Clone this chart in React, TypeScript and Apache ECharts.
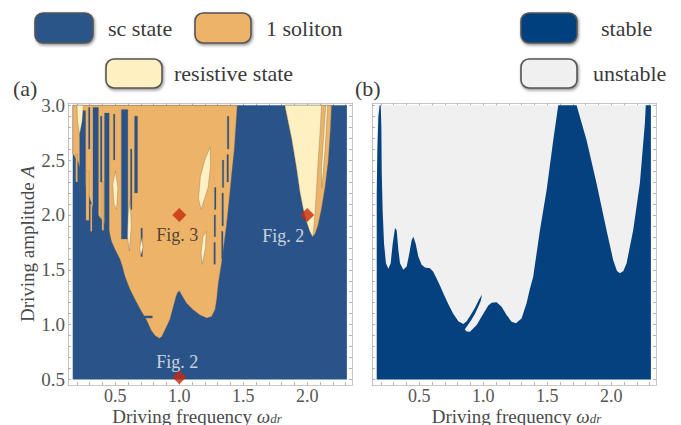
import React, { useEffect, useRef } from 'react';
import * as echarts from 'echarts';

// ---------------- data ----------------
const X_LABEL_TICKS = [0.5, 1.0, 1.5, 2.0];
const Y_LABEL_TICKS = [0.5, 1.0, 1.5, 2.0, 2.5, 3.0];
const X_TICK_MARKS = [0.2, 0.3, 0.4, 0.5, 0.6, 0.7, 0.8, 0.9, 1.0, 1.1, 1.2, 1.3, 1.4, 1.5, 1.6, 1.7, 1.8, 1.9, 2.0, 2.1, 2.2, 2.3];
const Y_TICK_MARKS = [0.5, 0.6, 0.7, 0.8, 0.9, 1.0, 1.1, 1.2, 1.3, 1.4, 1.5, 1.6, 1.7, 1.8, 1.9, 2.0, 2.1, 2.2, 2.3, 2.4, 2.5, 2.6, 2.7, 2.8, 2.9, 3.0];

const FREQ_RANGE = [0.167, 2.31];
const AMP_RANGE = [0.5, 3.0];

// panel (a): 1 soliton regions (boundary polygons, [ω, A])
const SOLITON_MAIN = [
  [0.167, 3.0], [1.453, 3.0], [1.43, 2.6], [1.41, 2.38], [1.39, 2.14], [1.37, 1.92], [1.35, 1.74],
  [1.33, 1.56], [1.305, 1.38], [1.292, 1.23], [1.28, 1.14], [1.253, 1.075], [1.214, 1.06], [1.162, 1.088],
  [1.11, 1.134], [1.057, 1.194], [1.018, 1.27], [1.0, 1.31], [0.985, 1.29], [0.974, 1.255], [0.953, 1.164],
  [0.927, 1.05], [0.888, 0.951], [0.862, 0.89], [0.844, 0.875], [0.81, 0.9], [0.78, 0.95], [0.745, 1.04],
  [0.70, 1.13], [0.656, 1.225], [0.615, 1.32], [0.576, 1.437], [0.555, 1.53], [0.535, 1.6], [0.50, 1.68],
  [0.47, 1.76], [0.45, 1.86], [0.40, 1.95], [0.33, 2.05], [0.27, 2.25], [0.21, 2.48], [0.167, 2.56],
];
const SOLITON_RIGHT = [
  [1.825, 3.0], [2.19, 3.0], [2.182, 2.79], [2.164, 2.486], [2.138, 2.243], [2.112, 2.061], [2.085, 1.909],
  [2.06, 1.824], [2.042, 1.802], [2.021, 1.848], [1.995, 1.939], [1.968, 2.061], [1.943, 2.213],
  [1.917, 2.426], [1.878, 2.699],
];
// orange fingers reaching into the sc region [ω0, ω1, A0, A1]
const SOLITON_STREAKS = [
  [0.27, 0.295, 1.95, 2.4], [0.305, 0.318, 1.85, 2.1], [0.395, 0.41, 1.86, 2.3], [0.19, 0.205, 2.3, 2.55],
];
// sc-state streaks inside the soliton region [ω0, ω1, A0, A1]
const SC_STREAKS = [
  [0.221, 0.268, 2.2, 2.95], [0.325, 0.368, 1.9, 2.98], [0.415, 0.452, 1.75, 2.93], [0.547, 0.598, 1.78, 2.96],
  [0.650, 0.674, 2.2, 2.9], [0.29, 0.302, 2.6, 2.98], [0.383, 0.396, 2.3, 2.9], [0.485, 0.497, 2.5, 2.92],
  [0.618, 0.630, 2.05, 2.6], [0.700, 0.712, 1.62, 1.88], [0.72, 0.79, 1.06, 1.08],
  [1.270, 1.282, 1.55, 1.75], [1.272, 1.284, 1.8, 2.0], [1.275, 1.287, 2.05, 2.25],
  [1.330, 1.342, 1.6, 1.85], [1.333, 1.345, 1.9, 2.2], [1.336, 1.348, 2.25, 2.5],
  [1.372, 1.385, 2.3, 2.55], [1.375, 1.388, 2.6, 2.9],
];
// resistive-state regions
const RESISTIVE_REGIONS = [
  [[1.825, 3.0], [2.112, 3.0], [2.099, 2.729], [2.085, 2.486], [2.073, 2.243], [2.06, 2.0], [2.05, 1.86],
   [2.042, 1.802], [2.021, 1.848], [1.995, 1.939], [1.968, 2.061], [1.943, 2.213], [1.917, 2.426], [1.878, 2.699]],
  [[1.24, 2.62], [1.245, 2.45], [1.225, 2.25], [1.17, 2.05], [1.15, 2.15], [1.165, 2.35], [1.2, 2.5]],
  [[1.21, 1.85], [1.205, 1.7], [1.18, 1.55], [1.17, 1.65], [1.185, 1.8]],
  [[0.50, 2.4], [0.52, 2.25], [0.51, 2.05], [0.49, 2.1], [0.48, 2.28]],
  [[0.615, 2.12], [0.625, 1.9], [0.61, 1.67], [0.595, 1.8], [0.6, 2.0]],
  [[0.71, 1.8], [0.716, 1.7], [0.7, 1.63], [0.69, 1.7]],
  [[0.2, 3.0], [0.25, 3.0], [0.24, 2.85], [0.22, 2.73], [0.205, 2.85]],
  [[2.145, 3.0], [2.16, 3.0], [2.14, 2.6], [2.115, 2.25], [2.11, 2.4], [2.13, 2.75]],
];
const FIG_POINTS = [[1.0, 2.0], [2.0, 2.0], [1.0, 0.52]];
const FIG_LABELS = ['Fig. 3', 'Fig. 2', 'Fig. 2'];

// panel (b): stable region boundary
const STABLE_REGION = [
  [0.167, 0.5], [0.167, 2.2], [0.172, 2.6], [0.18, 2.9], [0.19, 3.0], [0.198, 3.0], [0.203, 2.8], [0.206, 2.4],
  [0.213, 2.05], [0.224, 1.74], [0.239, 1.56], [0.258, 1.51], [0.276, 1.56], [0.292, 1.74], [0.31, 1.88],
  [0.323, 1.86], [0.336, 1.68], [0.349, 1.56], [0.375, 1.50], [0.401, 1.53], [0.422, 1.65], [0.44, 1.77],
  [0.453, 1.80], [0.471, 1.74], [0.492, 1.62], [0.518, 1.545], [0.544, 1.52], [0.583, 1.513], [0.609, 1.483],
  [0.635, 1.42], [0.66, 1.36], [0.69, 1.28], [0.725, 1.19], [0.765, 1.10], [0.805, 1.03], [0.843, 1.005],
  [0.87, 1.03], [0.90, 1.085], [0.935, 1.155], [0.965, 1.225], [0.99, 1.275], [0.98, 1.215], [0.96, 1.16],
  [0.935, 1.1], [0.905, 1.04], [0.875, 0.99], [0.855, 0.955], [0.87, 0.938], [0.896, 0.936], [0.948, 0.996],
  [1.0, 1.10], [1.039, 1.175], [1.065, 1.2], [1.104, 1.205], [1.143, 1.164], [1.182, 1.088], [1.221, 1.027],
  [1.255, 1.012], [1.299, 1.057], [1.338, 1.194], [1.365, 1.33], [1.39, 1.437], [1.443, 1.863],
  [1.495, 2.227], [1.547, 2.683], [1.586, 3.0], [1.729, 3.0], [1.807, 2.683], [1.885, 2.288], [1.963, 1.863],
  [2.015, 1.59], [2.045, 1.49], [2.068, 1.468], [2.095, 1.49], [2.12, 1.559], [2.172, 1.863], [2.224, 2.288],
  [2.263, 2.835], [2.27, 3.0], [2.31, 3.0], [2.31, 0.5],
];

// ---------------- styling ----------------
const SERIF = '"Liberation Serif", "DejaVu Serif", serif';
const C_SC = '#2A5489';
const C_SOL = '#EDB368';
const C_RES = '#FEF0C0';
const C_STABLE = '#05417E';
const C_UNSTABLE = '#F0F0F0';
const C_EDGE = 'rgba(105,95,85,0.45)';

const rectPoly = (r: number[]) => [[r[0], r[2]], [r[1], r[2]], [r[1], r[3]], [r[0], r[3]]];
const fullRect = () => rectPoly([FREQ_RANGE[0], FREQ_RANGE[1], AMP_RANGE[0], AMP_RANGE[1]]);

function polySeries(polys: number[][][], fill: string, stroke: string | null, panel: number, lw = 0.7) {
  return {
    type: 'custom',
    xAxisIndex: panel * 2,
    yAxisIndex: panel * 2,
    silent: true,
    data: polys.map((p, i) => [p[0][0], p[0][1], i]),
    renderItem: (params: any, api: any) => {
      const poly = polys[params.dataIndex];
      return {
        type: 'polygon',
        shape: { points: poly.map((pt) => api.coord(pt)) },
        style: { fill, stroke: stroke || 'none', lineWidth: stroke ? lw : 0 },
      };
    },
  };
}

const axisColor = '#c6c6c6';
const tickColor = '#b4b4b4';

function xAxis(grid: number, pos: 'bottom' | 'top', name: string, namePad: number[]) {
  const bottom = pos === 'bottom';
  return {
    type: 'value',
    gridIndex: grid,
    position: pos,
    min: 0.13,
    max: 2.35,
    splitLine: { show: false },
    axisLine: { show: true, onZero: false, lineStyle: { color: axisColor, width: 1 } },
    axisTick: { show: true, inside: true, length: 3, customValues: X_TICK_MARKS, lineStyle: { color: tickColor } },
    axisLabel: {
      show: bottom,
      customValues: X_LABEL_TICKS,
      formatter: (v: number) => v.toFixed(1),
      fontFamily: SERIF,
      fontSize: 18,
      lineHeight: 15,
      color: '#555',
      margin: 3,
    },
    name: bottom ? name : '',
    nameLocation: 'middle',
    nameGap: 22,
    nameMoveOverlap: false,
    nameTextStyle: {
      padding: namePad,
      rich: {
        a: { fontFamily: SERIF, fontSize: 19, color: '#4a4a4a', lineHeight: 18 },
        w: { fontFamily: SERIF, fontSize: 19, color: '#4a4a4a', fontStyle: 'italic', lineHeight: 18 },
        s: { fontFamily: SERIF, fontSize: 13, color: '#4a4a4a', fontStyle: 'italic', lineHeight: 11, verticalAlign: 'bottom' },
      },
    },
  };
}

function yAxis(grid: number, pos: 'left' | 'right', labels: boolean, name: string) {
  return {
    type: 'value',
    gridIndex: grid,
    position: pos,
    min: 0.45,
    max: 3.02,
    splitLine: { show: false },
    axisLine: { show: true, onZero: false, lineStyle: { color: axisColor, width: 1 } },
    axisTick: { show: true, inside: true, length: 3, customValues: Y_TICK_MARKS, lineStyle: { color: tickColor } },
    axisLabel: {
      show: labels,
      customValues: Y_LABEL_TICKS,
      formatter: (v: number) => v.toFixed(1),
      fontFamily: SERIF,
      fontSize: 19,
      color: '#555',
      margin: 3,
    },
    name,
    nameLocation: 'middle',
    nameGap: 31,
    nameMoveOverlap: false,
    nameTextStyle: {
      rich: {
        a: { fontFamily: SERIF, fontSize: 19, color: '#4a4a4a' },
        i: { fontFamily: SERIF, fontSize: 19, color: '#4a4a4a', fontStyle: 'italic' },
      },
    },
  };
}

function legendItem(x: number, y: number, w: number, h: number, fill: string, text: string, tx: number) {
  return [
    {
      type: 'rect',
      shape: { x, y, width: w, height: h, r: 8 },
      style: {
        fill,
        stroke: '#545454',
        lineWidth: 1.6,
        shadowBlur: 3,
        shadowOffsetX: 1,
        shadowOffsetY: 1.5,
        shadowColor: 'rgba(0,0,0,0.45)',
      },
    },
    {
      type: 'text',
      x: tx,
      y: y + h / 2,
      style: { text, fontFamily: SERIF, fontSize: 22, fill: '#3a3a3a', verticalAlign: 'middle' },
    },
  ];
}

const FIG_LABEL_STYLE = [
  { offset: [-2, 20], color: '#262626' },
  { offset: [-24, 21], color: '#f4f4f4' },
  { offset: [-2, -15], color: '#f4f4f4' },
];

export default function App() {
  const ref = useRef<HTMLDivElement>(null);
  useEffect(() => {
    if (!ref.current) return;
    const chart = echarts.init(ref.current, null, { renderer: 'svg' });
    const option: any = {
      animation: false,
      backgroundColor: '#ffffff',
      grid: [
        { left: 68, top: 103, width: 284, height: 282, outerBoundsMode: 'none' },
        { left: 372, top: 103, width: 284, height: 282, outerBoundsMode: 'none' },
      ],
      xAxis: [
        xAxis(0, 'bottom', '{a|Driving frequency }{w|ω}{s|dr}', [0, 26, 0, 0]),
        xAxis(0, 'top', '', [0, 0, 0, 0]),
        xAxis(1, 'bottom', '{a|Driving frequency }{w|ω}{s|dr}', [0, 0, 0, 5]),
        xAxis(1, 'top', '', [0, 0, 0, 0]),
      ],
      yAxis: [
        yAxis(0, 'left', true, '{a|Driving amplitude }{i|A}'),
        yAxis(0, 'right', false, ''),
        yAxis(1, 'left', false, ''),
        yAxis(1, 'right', false, ''),
      ],
      graphic: [
        ...legendItem(35, 13, 58, 30, C_SC, 'sc state', 108),
        ...legendItem(195, 13, 56, 30, C_SOL, '1 soliton', 266),
        ...legendItem(106, 59, 56, 29, C_RES, 'resistive state', 174),
        ...legendItem(521, 13, 56, 30, C_STABLE, 'stable', 601),
        ...legendItem(521, 59, 56, 29, C_UNSTABLE, 'unstable', 593),
        { type: 'text', x: 13, y: 88, style: { text: '(a)', fontFamily: SERIF, fontSize: 22, fill: '#3a3a3a', verticalAlign: 'middle' } },
        { type: 'text', x: 355, y: 88, style: { text: '(b)', fontFamily: SERIF, fontSize: 22, fill: '#3a3a3a', verticalAlign: 'middle' } },
      ],
      series: [
        polySeries([fullRect()], C_SC, null, 0),
        polySeries([SOLITON_MAIN, SOLITON_RIGHT], C_SOL, C_EDGE, 0),
        polySeries(SC_STREAKS.map(rectPoly), C_SC, C_EDGE, 0, 0.5),
        polySeries(SOLITON_STREAKS.map(rectPoly), C_SOL, C_EDGE, 0, 0.5),
        polySeries(RESISTIVE_REGIONS, C_RES, C_EDGE, 0),
        polySeries([fullRect()], C_UNSTABLE, null, 1),
        polySeries([STABLE_REGION], C_STABLE, null, 1),
        {
          type: 'scatter',
          xAxisIndex: 0,
          yAxisIndex: 0,
          symbol: 'diamond',
          symbolSize: 14,
          z: 10,
          itemStyle: { color: '#C8290B' },
          data: FIG_POINTS.map((p, i) => ({
            value: p,
            label: {
              show: true,
              position: 'inside',
              formatter: FIG_LABELS[i],
              offset: FIG_LABEL_STYLE[i].offset,
              color: FIG_LABEL_STYLE[i].color,
              fontFamily: SERIF,
              fontSize: 18,
            },
          })),
        },
      ],
    };
    chart.setOption(option);
    return () => chart.dispose();
  }, []);
  return (
    <div
      ref={ref}
      style={{ position: 'fixed', left: 0, top: 0, width: 681, height: 425, background: '#fff' }}
    />
  );
}
